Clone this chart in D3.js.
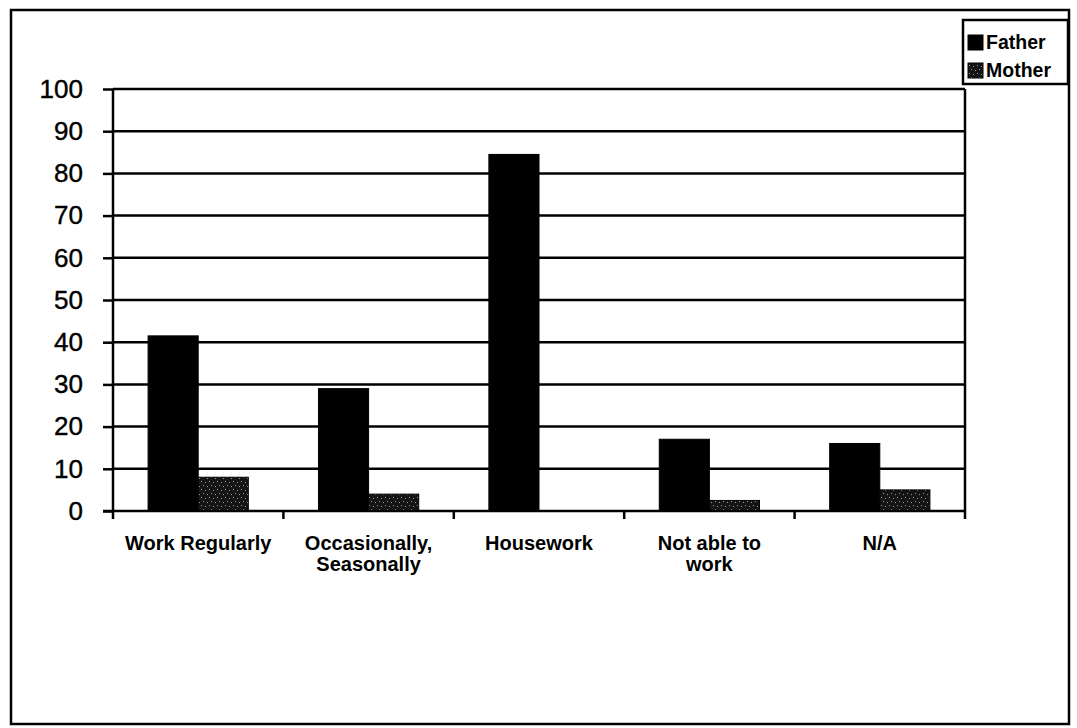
<!DOCTYPE html>
<html>
<head>
<meta charset="utf-8">
<script src="https://cdn.jsdelivr.net/npm/d3@7"></script>
<style>
  html, body { margin: 0; padding: 0; background: #fff; }
  svg { display: block; font-family: "Liberation Sans", Arial, sans-serif; }
</style>
</head>
<body>
<svg id="chart" width="1077" height="728"></svg>
<script>
// ---- data ----
const categories = ["Work Regularly", "Occasionally, Seasonally", "Housework", "Not able to work", "N/A"];
const categoryLines = [["Work Regularly"], ["Occasionally,", "Seasonally"], ["Housework"], ["Not able to", "work"], ["N/A"]];
const seriesNames = ["Father", "Mother"];
const fatherValues = [41.5, 29, 84.5, 17, 16];
const motherValues = [8, 4, 0, 2.5, 5];
const yTicks = [0, 10, 20, 30, 40, 50, 60, 70, 80, 90, 100];

(function () {
const svg = d3.select("#chart");

// pattern for Mother (dark with speckles)
const defs = svg.append("defs");
const pat = defs.append("pattern").attr("id", "speckle")
  .attr("patternUnits", "userSpaceOnUse").attr("width", 8).attr("height", 8);
pat.append("rect").attr("width", 8).attr("height", 8).attr("fill", "#151515");
[[1,1],[5,2],[3,5],[7,6]].forEach(([a,b]) =>
  pat.append("rect").attr("x", a).attr("y", b).attr("width", 1).attr("height", 1).attr("fill", "#9a9a9a"));

// outer frame
svg.append("rect").attr("x", 11).attr("y", 10).attr("width", 1058).attr("height", 714)
  .attr("fill", "none").attr("stroke", "#000").attr("stroke-width", 2.5);

const pLeft = 113, pRight = 965, pTop = 89, pBottom = 511;

const x0 = d3.scaleBand().domain(categories).range([pLeft, pRight]).padding(0);
const x1 = d3.scaleBand().domain(seriesNames).range([0, x0.bandwidth()]).paddingInner(0).paddingOuter(0.7);
const y = d3.scaleLinear().domain([0, 100]).range([pBottom, pTop]);

// gridlines
svg.append("g").selectAll("line").data(yTicks.filter(t => t > 0)).join("line")
  .attr("x1", pLeft).attr("x2", pRight)
  .attr("y1", d => y(d)).attr("y2", d => y(d))
  .attr("stroke", "#000").attr("stroke-width", 2.5);

// right border of plot
svg.append("line").attr("x1", pRight).attr("x2", pRight).attr("y1", pTop).attr("y2", pBottom)
  .attr("stroke", "#000").attr("stroke-width", 2.5);

// bars
const rows = categories.map((c, i) => ({ cat: c, values: [
  { s: "Father", v: fatherValues[i] }, { s: "Mother", v: motherValues[i] }] }));
const g = svg.append("g");
rows.forEach(r => {
  r.values.forEach(d => {
    if (d.v <= 0) return;
    g.append("rect")
      .attr("x", x0(r.cat) + x1(d.s))
      .attr("y", y(d.v))
      .attr("width", x1.bandwidth())
      .attr("height", y(0) - y(d.v))
      .attr("fill", d.s === "Father" ? "#000" : "url(#speckle)")
      .attr("stroke", "#000").attr("stroke-width", 1);
  });
});

// y axis
const yAxis = d3.axisLeft(y).tickValues(yTicks).tickSize(10).tickPadding(20).tickFormat(d3.format("d"));
const ya = svg.append("g").attr("transform", `translate(${pLeft},0)`).call(yAxis);
ya.select(".domain").attr("stroke-width", 2.5).attr("d", `M0,${pTop}V${pBottom}`);
ya.selectAll(".tick line").attr("stroke-width", 2.5);
ya.selectAll(".tick text").attr("font-size", 26).attr("fill", "#000")
  .attr("stroke", "#000").attr("stroke-width", 0.4)
  .attr("font-family", "Liberation Sans, Arial, sans-serif");

// x axis
const xa = svg.append("g").attr("transform", `translate(0,${pBottom})`);
xa.append("line").attr("x1", pLeft - 10).attr("x2", pRight).attr("y1", 0).attr("y2", 0)
  .attr("stroke", "#000").attr("stroke-width", 2.5);
const boundaries = categories.map(c => x0(c)).concat([pRight]);
xa.selectAll("line.tk").data(boundaries).join("line").attr("class", "tk")
  .attr("x1", d => d).attr("x2", d => d).attr("y1", 0).attr("y2", 8)
  .attr("stroke", "#000").attr("stroke-width", 2.5);

const labels = svg.append("g");
categories.forEach((c, i) => {
  const t = labels.append("text")
    .attr("x", x0(c) + x0.bandwidth() / 2)
    .attr("y", 550)
    .attr("text-anchor", "middle")
    .attr("font-size", 20).attr("font-weight", "bold").attr("fill", "#000");
  categoryLines[i].forEach((ln, j) => {
    t.append("tspan").attr("x", x0(c) + x0.bandwidth() / 2).attr("dy", j === 0 ? 0 : 21).text(ln);
  });
});

// legend
const lg = svg.append("g");
lg.append("rect").attr("x", 963).attr("y", 20).attr("width", 105).attr("height", 64)
  .attr("fill", "#fff").attr("stroke", "#000").attr("stroke-width", 2.5);
seriesNames.forEach((s, i) => {
  const cy = 42 + i * 28;
  lg.append("rect").attr("x", 968).attr("y", cy - 7).attr("width", 15).attr("height", 15)
    .attr("fill", s === "Father" ? "#000" : "url(#speckle)").attr("stroke", "#000").attr("stroke-width", 1);
  lg.append("text").attr("x", 986).attr("y", cy + 7)
    .attr("font-size", 19.5).attr("font-weight", "bold").attr("fill", "#000").text(s);
});
})();
</script>
</body>
</html>
